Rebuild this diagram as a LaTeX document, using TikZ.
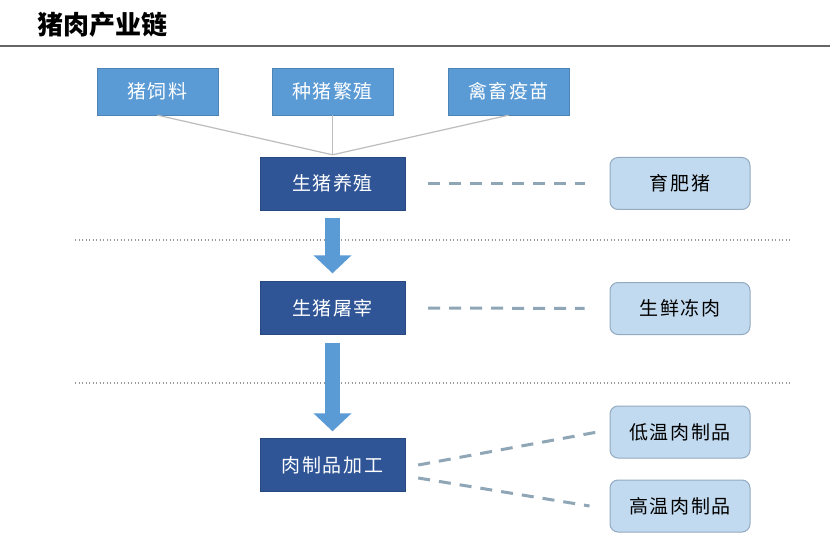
\documentclass[tikz,border=0pt]{standalone}
\usepackage{fontspec}
\newfontfamily\cjk{Noto Sans CJK SC}
\usetikzlibrary{arrows.meta}
\definecolor{midblue}{HTML}{5B9BD5}
\definecolor{darkblue}{HTML}{2F5597}
\definecolor{lightblue}{HTML}{C2DAEF}
\definecolor{lightborder}{HTML}{93AAC0}
\definecolor{dashcol}{HTML}{8FA6B6}
\definecolor{feedline}{HTML}{BDBDBD}
\tikzset{
  boxfont/.style={font=\cjk\fontsize{19}{21}\selectfont\addfontfeature{LetterSpace=8}},
  topbox/.style={boxfont, fill=midblue, draw=midblue!85!black, line width=0.4pt, minimum width=121pt, minimum height=47pt, inner sep=0pt, text=white},
  mainbox/.style={boxfont, fill=darkblue, draw=darkblue!85!black, line width=0.4pt, minimum width=145pt, minimum height=53pt, inner sep=0pt, text=white},
  outbox/.style={boxfont, fill=lightblue, draw=lightborder, line width=1pt, rounded corners=8pt, minimum width=140pt, minimum height=52pt, inner sep=0pt, text=black},
  feed/.style={draw=feedline, line width=1.2pt},
  dashlink/.style={draw=dashcol, line width=3pt, dash pattern=on 12pt off 9pt},
  flowarrow/.style={draw=midblue, line width=15pt, -{Triangle[width=37pt,length=18pt]}},
  sep/.style={draw=gray!80, line width=1.3pt, dash pattern=on 1.3pt off 2.2pt},
}
\begin{document}
\begin{tikzpicture}[x=1pt,y=-1pt]
\useasboundingbox (0,0) rectangle (830,556);
\fill[white] (0,0) rectangle (830,556);
% title
\node[anchor=west, inner sep=0pt, font=\cjk\bfseries\fontsize{26}{28}\selectfont] (title) at (37,25) {猪肉产业链};
\draw[draw=gray!80!black, line width=2.5pt] (0,46) -- (830,46);
% top boxes
\node[topbox] (feed1) at (157.5,91.5) {猪饲料};
\node[topbox] (breed) at (332.5,91.5) {种猪繁殖};
\node[topbox] (vacc) at (508.5,91.5) {禽畜疫苗};
% main chain
\node[mainbox] (farm) at (332.5,183.5) {生猪养殖};
\node[mainbox] (slaughter) at (332.5,308) {生猪屠宰};
\node[mainbox] (process) at (332.5,465) {肉制品加工};
% outputs
\node[outbox] (fat) at (680,183.5) {育肥猪};
\node[outbox] (fresh) at (680,308.5) {生鲜冻肉};
\node[outbox] (low) at (680,432) {低温肉制品};
\node[outbox] (high) at (680,506) {高温肉制品};
% feed lines
\coordinate (joint) at ([yshift=2pt]farm.north);
\draw[feed] (feed1.south) -- (joint);
\draw[feed] (breed.south) -- (joint);
\draw[feed] (vacc.south) -- (joint);
% separators
\draw[sep] (75,240) -- (790,240);
\draw[sep] (75,383) -- (790,383);
% flow arrows
\draw[flowarrow] ([yshift=-8pt]farm.south) -- ([yshift=8pt]slaughter.north);
\draw[flowarrow] ([yshift=-8pt]slaughter.south) -- ([yshift=7pt]process.north);
% dashed links
\draw[dashlink] ([xshift=23pt]farm.east) -- ([xshift=-25pt]fat.west);
\draw[dashlink] ([xshift=23pt]slaughter.east) -- ([xshift=-25pt]fresh.west);
\draw[dashlink] ([xshift=13pt]process.east) -- ([xshift=-12pt]low.west);
\draw[dashlink] ([xshift=13pt,yshift=-13pt]process.east) -- ([xshift=-20pt]high.west);
\end{tikzpicture}
\end{document}
